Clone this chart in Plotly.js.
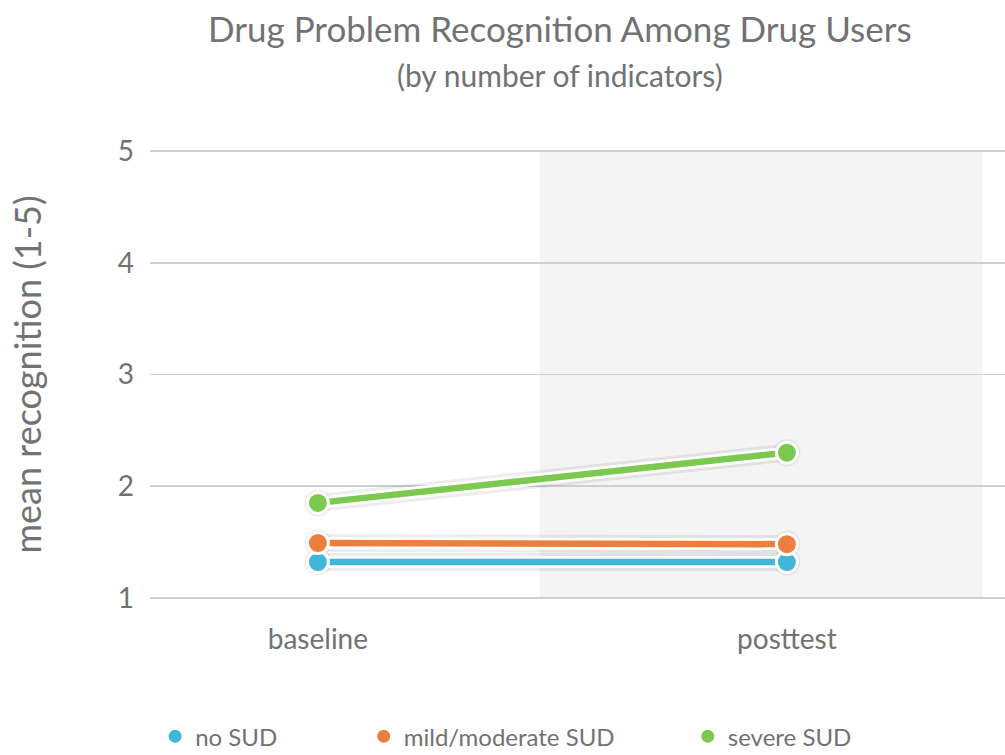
<!DOCTYPE html>
<html>
<head>
<meta charset="utf-8">
<script src="https://cdn.plot.ly/plotly-3.0.1.min.js"></script>
<style>html,body{margin:0;padding:0;background:#fff;}#chart{width:1005px;height:755px;}</style>
</head>
<body>
<div id="chart"></div>
<script>
const categories = ['baseline', 'posttest'];
const seriesNames = ['no SUD', 'mild/moderate SUD', 'severe SUD'];
const noSUD = [1.32, 1.32];
const mildModerateSUD = [1.49, 1.48];
const severeSUD = [1.85, 2.30];
const yTicks = [1, 2, 3, 4, 5];
const colors = ['#41b6d8', '#ec7f3e', '#7bc94f'];

const FONT = 'Lato, "Noto Sans", sans-serif';
const TXT = '#727272';
const series = [noSUD, mildModerateSUD, severeSUD];
const legends = ['legend', 'legend2', 'legend3'];

const traces = [];
series.forEach((vals) => {
  traces.push({x: categories, y: vals, type: 'scatter', mode: 'lines+markers',
    line: {color: 'rgba(0,0,0,0.07)', width: 18}, marker: {size: 27, color: 'rgba(0,0,0,0.07)'},
    showlegend: false, hoverinfo: 'skip', cliponaxis: false});
});
series.forEach((vals) => {
  traces.push({x: categories, y: vals, type: 'scatter', mode: 'lines',
    line: {color: '#ffffff', width: 12}, showlegend: false, hoverinfo: 'skip', cliponaxis: false});
});
series.forEach((vals, i) => {
  traces.push({x: categories, y: vals, type: 'scatter', mode: 'lines',
    line: {color: colors[i], width: 6.5}, showlegend: false, hoverinfo: 'skip', cliponaxis: false});
});
series.forEach((vals, i) => {
  traces.push({x: categories, y: vals, type: 'scatter', mode: 'markers', name: seriesNames[i],
    marker: {size: 21, color: colors[i], line: {color: '#ffffff', width: 3}},
    legend: legends[i], cliponaxis: false});
});

const legendBase = {orientation: 'h', yanchor: 'middle', y: -0.303, xanchor: 'left',
  font: {family: FONT, size: 24, color: TXT}, bgcolor: 'rgba(0,0,0,0)', itemsizing: 'trace'};

const layout = {
  width: 1005, height: 755,
  paper_bgcolor: '#ffffff', plot_bgcolor: '#ffffff',
  margin: {l: 150, r: 0, t: 149, b: 154.5, autoexpand: false},
  font: {family: FONT, color: TXT},
  title: {
    text: 'Drug Problem Recognition Among Drug Users<br><span style="font-size:30px">(by number of indicators)</span>',
    font: {family: FONT, size: 35, color: TXT},
    x: 0.557, xanchor: 'center', yref: 'container', y: 0.945, yanchor: 'top'
  },
  xaxis: {
    type: 'category', range: [-0.358, 1.465], showgrid: false, zeroline: false, showline: false,
    tickfont: {family: FONT, size: 28, color: TXT}, ticks: '', ticklabelstandoff: 20, fixedrange: true
  },
  yaxis: {
    range: [0.98, 5.02], tickvals: yTicks, ticktext: yTicks.map(String), showgrid: true, gridcolor: '#cfcfcf', gridwidth: 1.5,
    zeroline: false, showline: false, ticks: '', ticklabelstandoff: 15,
    tickfont: {family: FONT, size: 28, color: TXT},
    title: {text: 'mean recognition (1-5)', font: {family: FONT, size: 36, color: TXT}, standoff: 65},
    automargin: false, fixedrange: true
  },
  shapes: [{type: 'rect', xref: 'x', yref: 'y', x0: 0.473, x1: 1.416, y0: 1, y1: 5,
    fillcolor: '#f4f4f4', line: {width: 0}, layer: 'below'}],
  legend: Object.assign({}, legendBase, {x: 0.006}),
  legend2: Object.assign({}, legendBase, {x: 0.25}),
  legend3: Object.assign({}, legendBase, {x: 0.629}),
  showlegend: true
};

Plotly.newPlot('chart', traces, layout, {displayModeBar: false, staticPlot: true});
</script>
</body>
</html>
